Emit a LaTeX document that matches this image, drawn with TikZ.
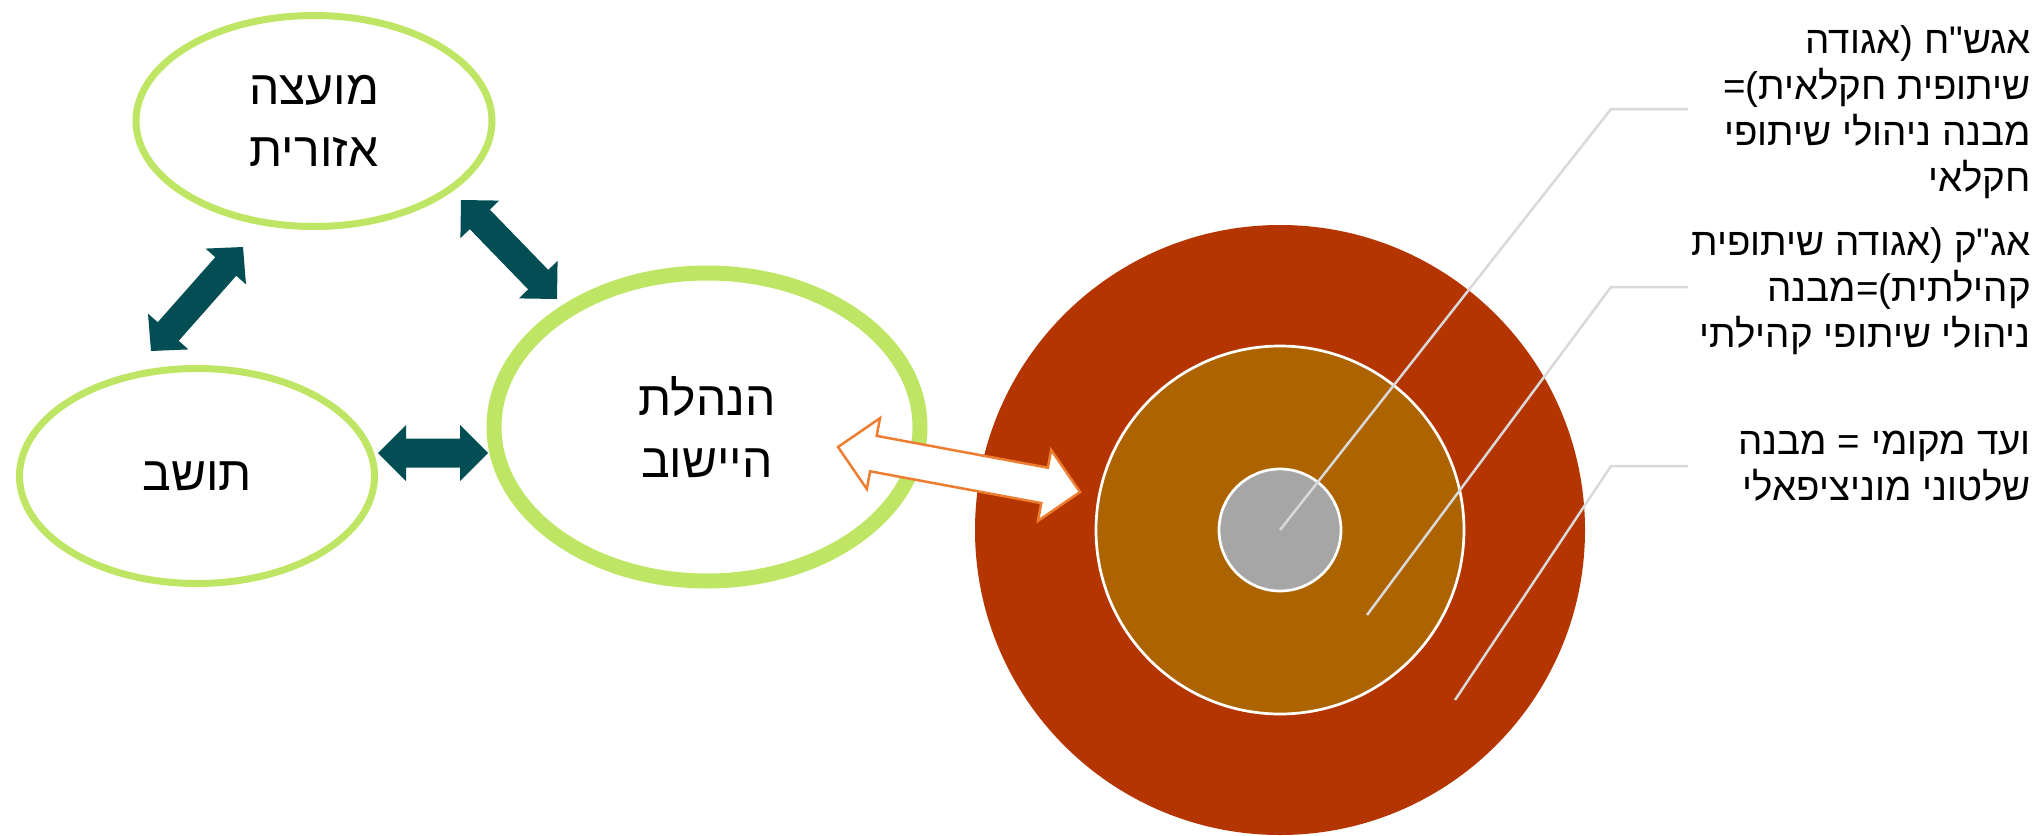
\documentclass[tikz,border=0pt]{standalone}
\usepackage{fontspec}
\setmainfont{Liberation Sans}
\newfontfamily\heb[Script=Hebrew]{Liberation Sans}
\TeXXeTstate=1
\usetikzlibrary{calc,shapes.geometric}
\definecolor{cLime}{RGB}{190,230,100}
\definecolor{cTeal}{RGB}{3,78,84}
\definecolor{cRed}{RGB}{180,53,0}
\definecolor{cAmber}{RGB}{173,99,0}
\definecolor{cGrey}{RGB}{166,166,166}
\definecolor{cLeader}{RGB}{217,217,217}
\definecolor{cOrange}{RGB}{237,125,49}
% double block arrow between two named points: style, from, to, half shaft, half head, head length
\newcommand\dblarrow[6]{%
  \path ($(#2)!#6!(#3)$) coordinate (da1) ($(#3)!#6!(#2)$) coordinate (da2);
  \path[#1] (#2) -- ($(da1)!#5!90:(#3)$) -- ($(da1)!#4!90:(#3)$)
    -- ($(da2)!#4!-90:(#2)$) -- ($(da2)!#5!-90:(#2)$) -- (#3)
    -- ($(da2)!#5!90:(#2)$) -- ($(da2)!#4!90:(#2)$)
    -- ($(da1)!#4!-90:(#3)$) -- ($(da1)!#5!-90:(#3)$) -- cycle;}
\begin{document}
\begin{tikzpicture}[x=1pt,y=-1pt,
  ell/.style={ellipse, draw=cLime, fill=white, inner sep=0pt, align=center,
    font=\heb\fontsize{48}{62}\selectfont},
  tealarr/.style={fill=cTeal},
  orarr/.style={fill=white, draw=cOrange, line width=2.5pt, line join=miter},
  leader/.style={draw=cLeader, line width=2.5pt},
  ring/.style={draw=white, line width=2.7pt},
  rtext/.style={align=right, anchor=north east, inner sep=0pt,
    font=\heb\fontsize{38.5}{46}\selectfont}]
\fill[white] (0,0) rectangle (2042,835);
\useasboundingbox (0,0) rectangle (2042,835);

% ellipses
\node[ell, line width=7pt, minimum width=356pt, minimum height=211pt] (moatza) at (314,121)
  {\beginR מועצה\endR\\\beginR אזורית\endR};
\node[ell, line width=7pt, minimum width=355pt, minimum height=215pt] (toshav) at (197,476)
  {\beginR תושב\endR};
\node[ell, line width=15pt, minimum width=426pt, minimum height=308pt] (hanhala) at (707,427)
  {\beginR הנהלת\endR\\\beginR היישוב\endR};

% concentric circles
\coordinate (cc) at (1280,530);
\fill[cRed] (cc) circle[radius=305];
\filldraw[fill=cAmber, ring] (cc) circle[radius=184];
\filldraw[fill=cGrey, ring] (cc) circle[radius=61];

% teal arrows
\coordinate (a1) at (151,351); \coordinate (a2) at (243,247);
\coordinate (b1) at (461,200); \coordinate (b2) at (557,299);
\coordinate (c1) at (378,453); \coordinate (c2) at (488,453);
\dblarrow{tealarr}{a1}{a2}{14pt}{27pt}{26pt}
\dblarrow{tealarr}{b1}{b2}{14pt}{27pt}{27pt}
\dblarrow{tealarr}{c1}{c2}{14.5pt}{28pt}{28pt}

% leader lines
\coordinate (l1) at (1280,530); \coordinate (e1) at (1611,109); \coordinate (f1) at (1688,109);
\coordinate (l2) at (1367,615); \coordinate (e2) at (1611,287); \coordinate (f2) at (1688,287);
\coordinate (l3) at (1455,700); \coordinate (e3) at (1611,466); \coordinate (f3) at (1688,466);
\draw[leader] (l1) -- (e1) -- (f1);
\draw[leader] (l2) -- (e2) -- (f2);
\draw[leader] (l3) -- (e3) -- (f3);

% orange arrow
\coordinate (o1) at (838,447); \coordinate (o2) at (1080,492);
\dblarrow{orarr}{o1}{o2}{18pt}{36pt}{36pt}

% labels
\node[rtext] (t1) at (2031,25)
  {\beginR אגש"ח (אגודה\endR\\\beginR שיתופית חקלאית)=\endR\\\beginR מבנה ניהולי שיתופי\endR\\\beginR חקלאי\endR};
\node[rtext] (t2) at (2031,227)
  {\beginR אג"ק (אגודה שיתופית\endR\\\beginR קהילתית)=מבנה\endR\\\beginR ניהולי שיתופי קהילתי\endR};
\node[rtext] (t3) at (2031,431)
  {\beginR ועד מקומי = מבנה\endR\\\beginR שלטוני מוניציפאלי\endR};
\end{tikzpicture}
\end{document}
